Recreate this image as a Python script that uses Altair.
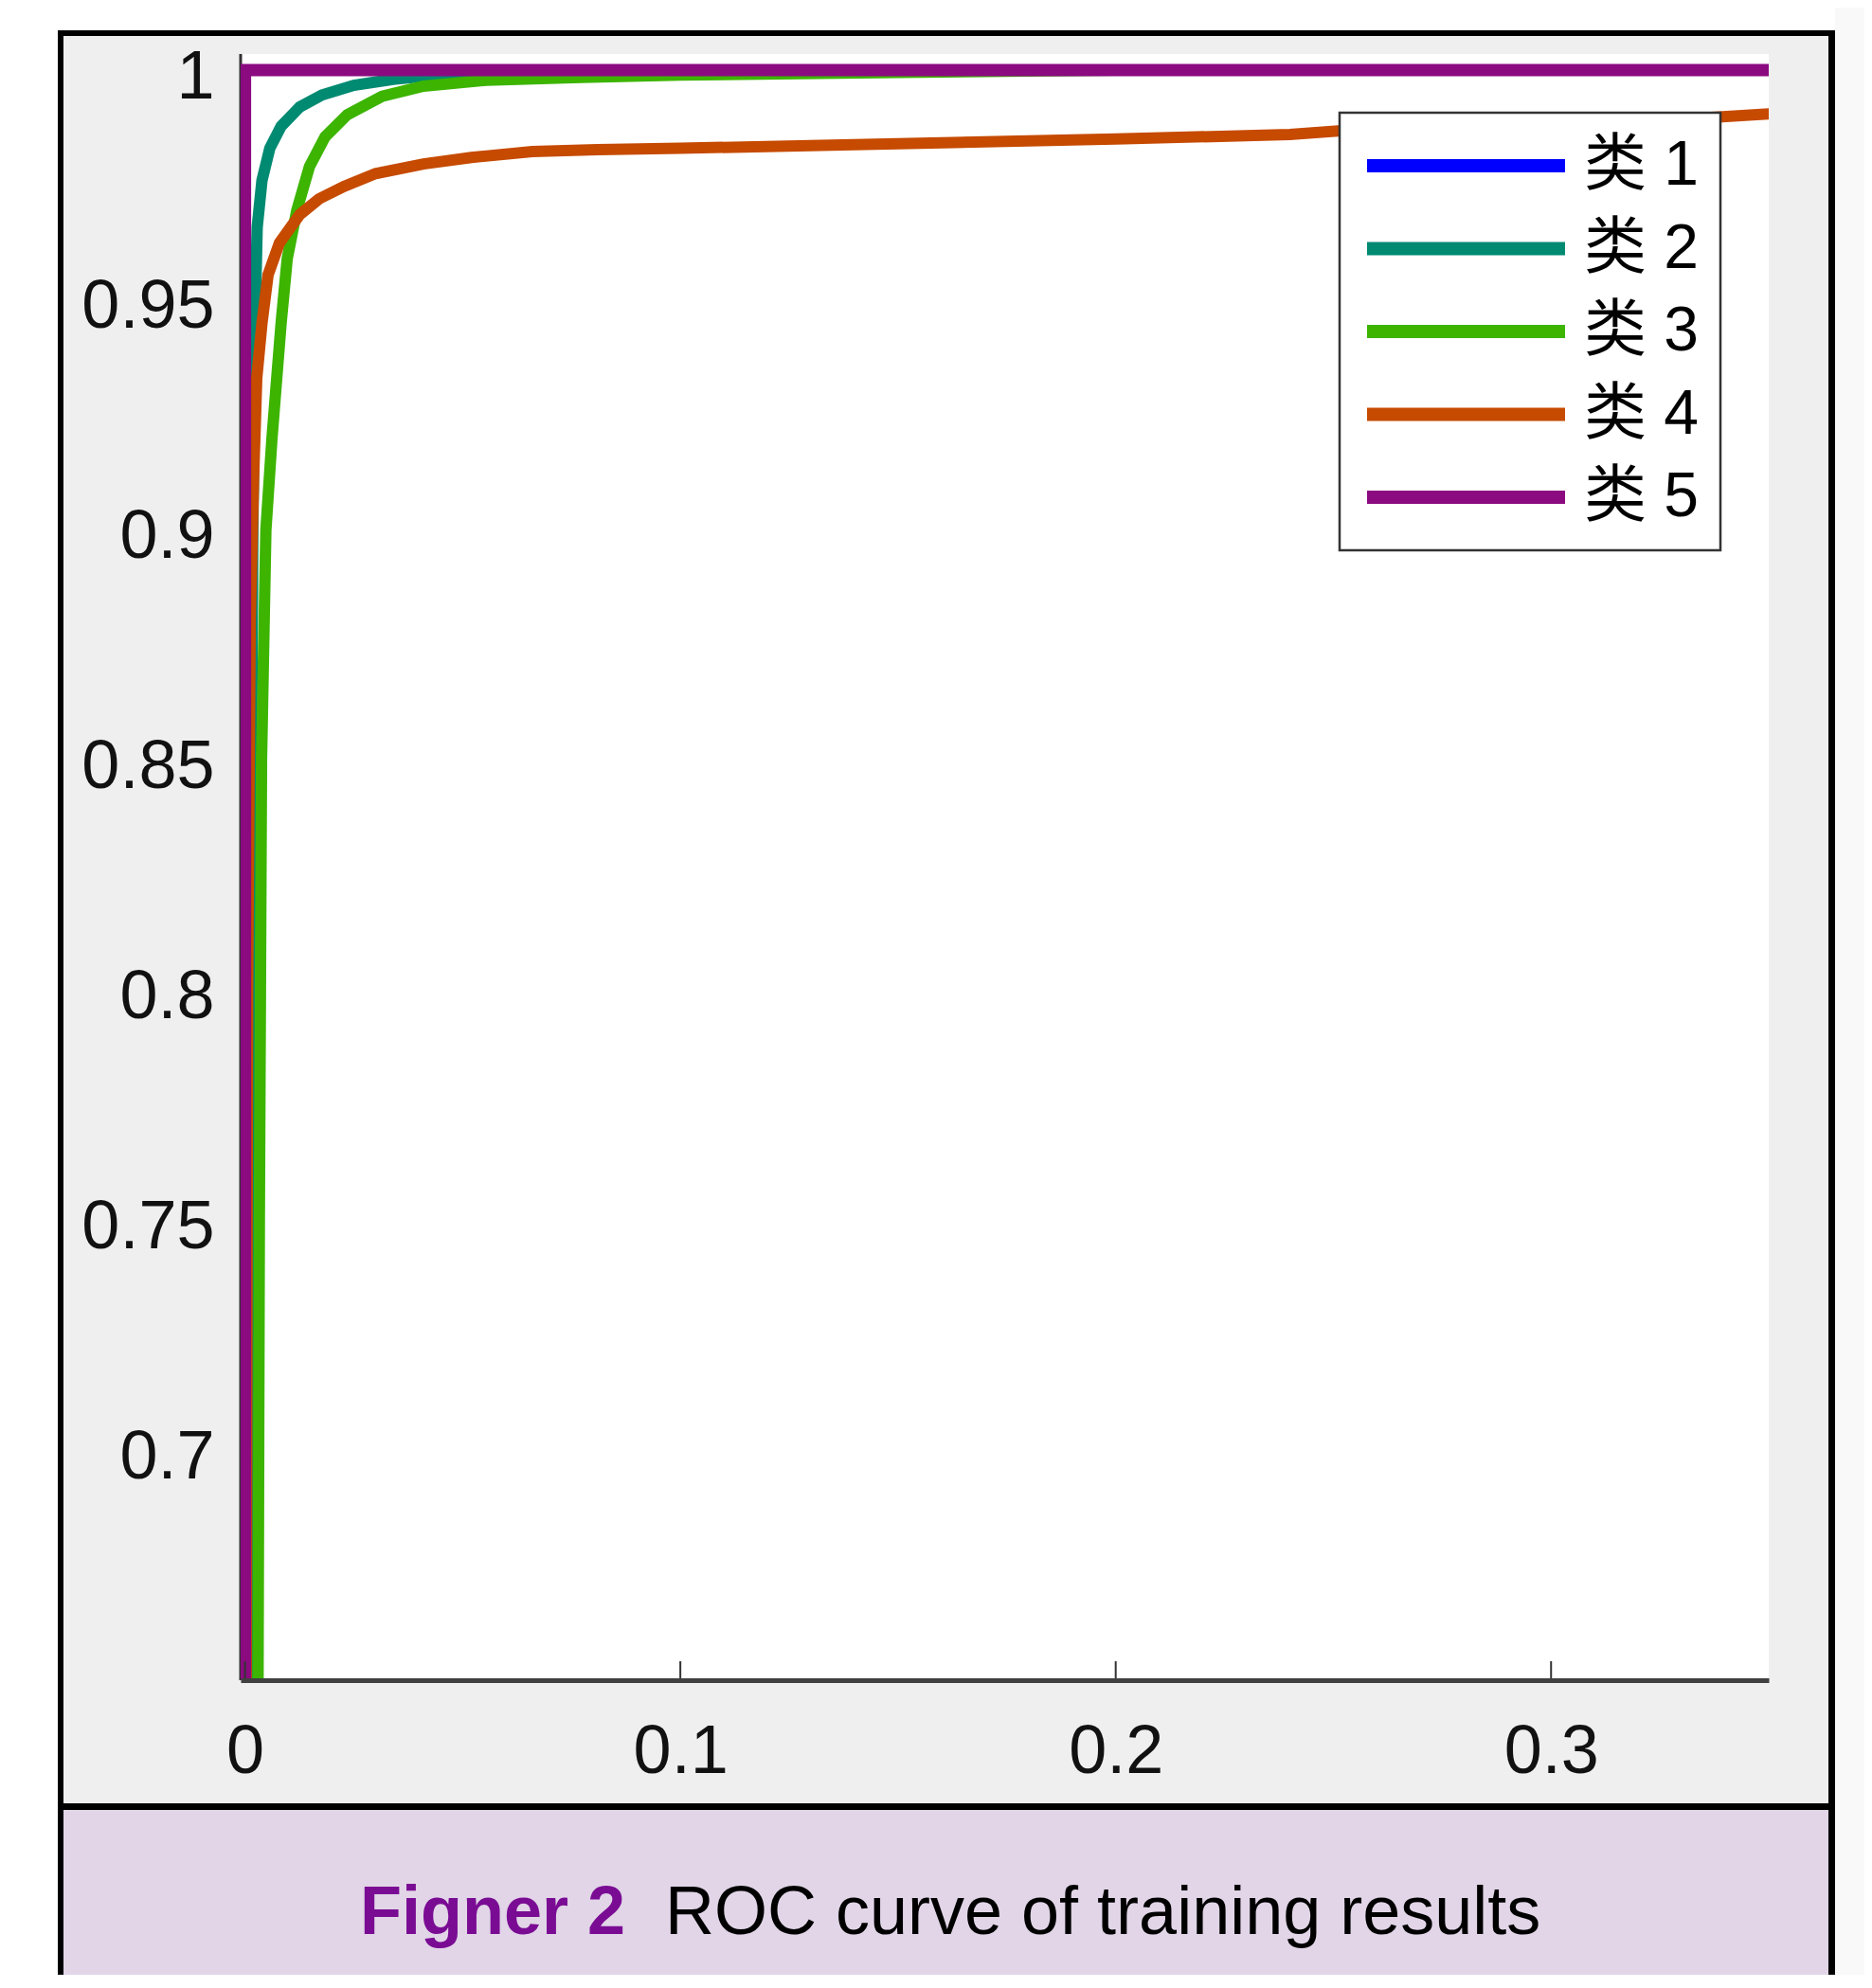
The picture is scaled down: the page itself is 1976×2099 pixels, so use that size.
import altair as alt
import pandas as pd

# ---------------- data ----------------
classes = ["类 1", "类 2", "类 3", "类 4", "类 5"]
class_colors = ["#0000ff", "#008a72", "#3cb400", "#c64a00", "#8b0a80"]

fpr_c1 = [0.0, 0.0, 1.0]
tpr_c1 = [0.0, 1.0, 1.0]

fpr_c2 = [0.0, 0.0008, 0.0012, 0.0018, 0.0022, 0.0023, 0.0028, 0.0039, 0.0057,
          0.0083, 0.0126, 0.0177, 0.025, 0.034, 0.045, 0.06, 0.1, 1.0]
tpr_c2 = [0.0, 0.65, 0.8, 0.9, 0.93, 0.945, 0.9658, 0.976, 0.983,
          0.9878, 0.992, 0.9946, 0.9967, 0.998, 0.999, 0.9996, 1.0, 1.0]

fpr_c3 = [0.0, 0.003, 0.0033, 0.0038, 0.0048, 0.0062, 0.0083, 0.0097, 0.0119,
          0.0148, 0.0184, 0.0235, 0.0315, 0.041, 0.0554, 0.077, 0.1, 0.15, 0.2, 1.0]
tpr_c3 = [0.0, 0.65, 0.75, 0.85, 0.9, 0.92, 0.945, 0.959, 0.9695,
          0.979, 0.9855, 0.9903, 0.9943, 0.9965, 0.9978, 0.9984, 0.9989, 0.9995, 1.0, 1.0]

fpr_c4 = [0.0, 0.0003, 0.0006, 0.0012, 0.002, 0.0027, 0.0039, 0.0053, 0.0079,
          0.0126, 0.017, 0.0227, 0.03, 0.041, 0.052, 0.066, 0.081, 0.1, 0.15,
          0.2, 0.24, 0.26, 0.3, 0.33, 0.35, 1.0]
tpr_c4 = [0.0, 0.65, 0.8, 0.88, 0.912, 0.933, 0.945, 0.9555, 0.9624,
          0.9686, 0.972, 0.9747, 0.9775, 0.9796, 0.981, 0.9823, 0.9827, 0.983, 0.9840,
          0.9850, 0.9860, 0.9874, 0.9882, 0.9893, 0.9905, 1.0]

fpr_c5 = [0.0, 0.0, 1.0]
tpr_c5 = [0.0, 1.0, 1.0]

x_ticks = [0, 0.1, 0.2, 0.3]
y_ticks = [0.7, 0.75, 0.8, 0.85, 0.9, 0.95, 1.0]

caption_label = "Figner 2"
caption_text = "ROC curve of training results"

# ---------------- build tables ----------------
series = [(fpr_c1, tpr_c1), (fpr_c2, tpr_c2), (fpr_c3, tpr_c3), (fpr_c4, tpr_c4), (fpr_c5, tpr_c5)]
rows = []
for name, (fx, ty) in zip(classes, series):
    for i, (a, b) in enumerate(zip(fx, ty)):
        rows.append({"fpr": a, "tpr": b, "cls": name, "i": i})
df = pd.DataFrame(rows)
ticks_df = pd.DataFrame({"t": x_ticks})
one = pd.DataFrame({"a": [0]})

W, H = 1613, 1717
FONT = "Liberation Sans"

xs = alt.Scale(domain=[-0.001, 0.35], nice=False, zero=False)
ys = alt.Scale(domain=[0.65, 1.0035], nice=False, zero=False)
cs = alt.Scale(domain=classes, range=class_colors)

x_axis = alt.Axis(values=x_ticks, format="~g", title=None, grid=False, ticks=False,
                  domain=True, domainColor="#404040", domainWidth=5,
                  labelFont=FONT, labelFontSize=72, labelColor="#111111",
                  labelPadding=40, labelFlush=False, labelOverlap=False, zindex=1)
y_axis = alt.Axis(values=y_ticks, format="~g", title=None, grid=False, ticks=False,
                  domain=False, labelFont=FONT, labelFontSize=72, labelColor="#111111",
                  labelPadding=28, labelOffset=7, labelFlush=False, labelOverlap=False, zindex=1)

legend = alt.Legend(orient="none", legendX=1160, legendY=62, title=None,
                    symbolType="stroke", symbolSize=43681, symbolStrokeWidth=14,
                    labelFont="Liberation Sans, Noto Sans CJK SC", labelFontSize=66,
                    labelColor="#000000", labelOffset=13, labelLimit=500,
                    clipHeight=68, rowPadding=19.5, padding=22,
                    fillColor="white", strokeColor="#333333")


def box(x, x2, y, y2, color):
    return alt.Chart(one).mark_rect(color=color).encode(
        x=alt.value(x), x2=alt.value(x2), y=alt.value(y), y2=alt.value(y2))


layers = [
    box(-193, 1683, -25, 2100, "#000000"),      # outer frame
    box(-187, 1676, -19, 1847, "#efefef"),      # grey figure panel
    box(-187, 1676, 1854, 2100, "#e1d5e7"),     # caption panel
    box(1683, 1730, -60, 2100, "#f9f9f9"),      # page strip right of frame
    box(0, W, 0, H, "#ffffff"),                 # plot area
    alt.Chart(one).mark_rule(color="#333333", strokeWidth=3).encode(
        x=alt.value(0), y=alt.value(0), y2=alt.value(H)),
]

widths = {"类 1": 12, "类 2": 12, "类 3": 12, "类 4": 12, "类 5": 13}
for name in classes:
    layers.append(
        alt.Chart(df[df["cls"] == name]).mark_line(strokeWidth=widths[name], clip=True).encode(
            x=alt.X("fpr:Q", scale=xs, axis=x_axis),
            y=alt.Y("tpr:Q", scale=ys, axis=y_axis),
            color=alt.Color("cls:N", scale=cs, legend=legend),
            order=alt.Order("i:Q"),
        )
    )

layers.append(
    alt.Chart(ticks_df).mark_rule(color="#333333", strokeWidth=2).encode(
        x=alt.X("t:Q", scale=xs, axis=x_axis),
        y=alt.value(H - 20), y2=alt.value(H))
)

cap_df = pd.DataFrame({"label": [caption_label], "text": [caption_text]})
layers.append(
    alt.Chart(cap_df).mark_text(align="left", baseline="alphabetic", font=FONT,
                                fontSize=72, fontWeight="bold", color="#7a0c94").encode(
        x=alt.value(126), y=alt.value(1985), text="label:N")
)
layers.append(
    alt.Chart(cap_df).mark_text(align="left", baseline="alphabetic", font=FONT,
                                fontSize=72, color="#000000").encode(
        x=alt.value(448), y=alt.value(1985), text="text:N")
)

chart = alt.layer(*layers).properties(
    width=W, height=H,
    autosize=alt.AutoSizeParams(type="none"),
    padding={"left": 246, "top": 49, "right": 101, "bottom": 311},
    background="white",
).configure_view(strokeWidth=0).configure_legend(strokeWidth=2.5)

chart.save("out.html", embed_options={"renderer": "svg", "actions": False})
